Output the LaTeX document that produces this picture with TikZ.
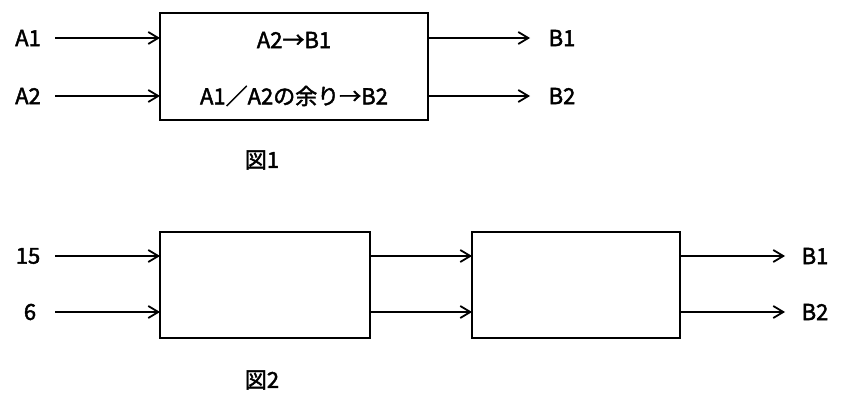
\documentclass[tikz,border=0pt]{standalone}
\usetikzlibrary{arrows.meta}
\usepackage{fontspec}
\setmainfont{Noto Sans CJK JP}[AutoFakeBold=2]
\begin{document}
\begin{tikzpicture}[x=1pt,y=-1pt,
  box/.style={draw,line width=2pt},
  arr/.style={line width=1.8pt,-{Straight Barb[length=10pt,width=12pt]}},
  lab/.style={font=\fontsize{22}{24}\selectfont\bfseries}]
\useasboundingbox (0,0) rectangle (842,403);
\node[box,minimum width=268pt,minimum height=107pt] (b1) at (294,66.5) {};
\node[lab] (t1) at (294,40) {A2→B1};
\node[lab] (t2) at (294,96) {A1／A2の余り→B2};
\node[lab] (a1) at (28,38) {A1};
\node[lab] (a2) at (28,96) {A2};
\node[lab] (o1) at (562,38) {B1};
\node[lab] (o2) at (562,96) {B2};
\coordinate (a1e) at (160,38); \coordinate (a2e) at (160,96);
\coordinate (b1s) at (428,38); \coordinate (b2s) at (428,96);
\coordinate (b1e) at (530,38); \coordinate (b2e) at (530,96);
\draw[arr] (55,38) -- (a1e); \draw[arr] (55,96) -- (a2e);
\draw[arr] (b1s) -- (b1e); \draw[arr] (b2s) -- (b2e);
\node[lab] (f1) at (262,160) {図1};

\node[box,minimum width=210pt,minimum height=106pt] (c1) at (265,285) {};
\node[box,minimum width=208pt,minimum height=106pt] (c2) at (576,285) {};
\node[lab] (i1) at (28,256) {15};
\node[lab] (i2) at (30,312) {6};
\node[lab] (p1) at (815,256) {B1};
\node[lab] (p2) at (815,312) {B2};
\draw[arr] (55,256) -- (160,256); \draw[arr] (55,312) -- (160,312);
\draw[arr] (370,256) -- (472,256); \draw[arr] (370,312) -- (472,312);
\draw[arr] (680,256) -- (785,256); \draw[arr] (680,312) -- (785,312);
\node[lab] (f2) at (262,380) {図2};
\end{tikzpicture}
\end{document}
